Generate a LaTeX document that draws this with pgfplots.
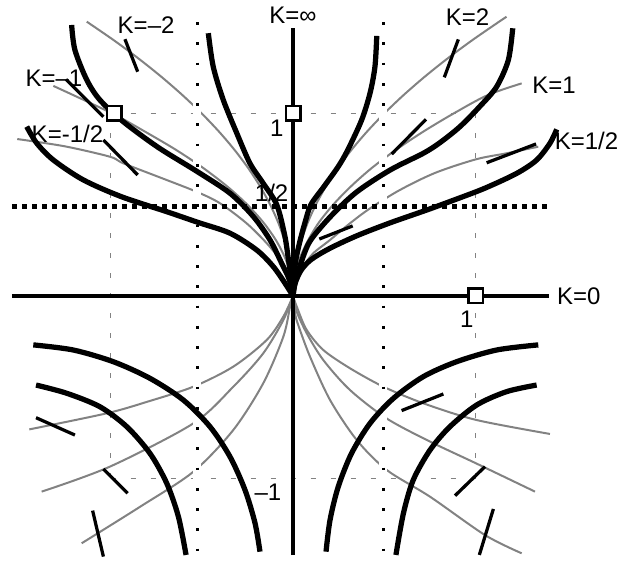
\documentclass[border=0pt]{standalone}
\usepackage{pgfplots}
\pgfplotsset{compat=1.18}
\usepackage{fontspec}
\setmainfont{Liberation Sans}
\definecolor{isogray}{RGB}{130,130,130}
\newcommand{\lab}{\fontsize{9.6}{11}\selectfont}

\begin{document}
\begin{tikzpicture}
\begin{axis}[
  hide axis, scale only axis, clip=false,
  x=73pt, y=73pt,
  xmin=-1.6055, xmax=1.8137, ymin=-1.4521, ymax=1.6219,
]
\coordinate (bl) at (rel axis cs:0,0);
\coordinate (tr) at (rel axis cs:1,1);

% thin dashed square through (+-1,+-1)
\pgfplotsset{grid/.style={color=isogray, line width=0.5pt, dash pattern=on 2pt off 6pt}}
\addplot[grid] coordinates {(-1,1) (1,1)};
\addplot[grid] coordinates {(-1,-1) (1,-1)};
\addplot[grid] coordinates {(-1,1) (-1,-1)};
\addplot[grid] coordinates {(1,1) (1,-1)};

% isoclines (grey)
\pgfplotsset{iso/.style={color=isogray, line width=0.8pt, smooth}}
% K = 2, 1, 1/2 (upper right)
\addplot[iso] coordinates {(0,0) (0.004,0.1) (0.02,0.2) (0.045,0.3) (0.08,0.4) (0.125,0.5) (0.18,0.6) (0.245,0.7) (0.32,0.8) (0.405,0.9) (0.5,1.0) (0.605,1.1) (0.72,1.2) (0.845,1.3) (0.98,1.4) (1.125,1.5) (1.17,1.53)};
\addplot[iso] coordinates {(0,0) (0.009,0.1) (0.035,0.2) (0.08,0.3) (0.14,0.4) (0.22,0.5) (0.317,0.6) (0.43,0.7) (0.563,0.8) (0.713,0.9) (0.88,1.0) (1.065,1.1) (1.253,1.165)};
\addplot[iso] coordinates {(0,0) (0.02,0.08) (0.056,0.161) (0.111,0.234) (0.203,0.307) (0.312,0.398) (0.422,0.48) (0.586,0.581) (0.78,0.675) (1.003,0.749) (1.171,0.782) (1.344,0.818)};
% K = -2, -1, -1/2 (upper left)
\addplot[iso] coordinates {(0,0) (-0.004,0.1) (-0.02,0.2) (-0.045,0.3) (-0.08,0.4) (-0.125,0.5) (-0.18,0.6) (-0.245,0.7) (-0.32,0.8) (-0.405,0.9) (-0.5,1.0) (-0.605,1.1) (-0.72,1.2) (-0.845,1.3) (-0.98,1.4) (-1.13,1.503)};
\addplot[iso] coordinates {(0,0) (-0.01,0.1) (-0.04,0.2) (-0.09,0.3) (-0.16,0.4) (-0.25,0.5) (-0.36,0.6) (-0.49,0.7) (-0.64,0.8) (-0.81,0.9) (-0.99,1.0) (-1.313,1.151)};
\addplot[iso] coordinates {(0,0) (-0.035,0.106) (-0.071,0.197) (-0.144,0.289) (-0.254,0.398) (-0.4,0.508) (-0.528,0.571) (-0.73,0.65) (-0.93,0.727) (-1.003,0.763) (-1.25,0.82) (-1.511,0.86)};
% lower right
\addplot[iso] coordinates {(0,0) (0.025,-0.07) (0.075,-0.186) (0.166,-0.296) (0.312,-0.396) (0.495,-0.497) (0.714,-0.588) (1.003,-0.679) (1.408,-0.756)};
\addplot[iso] coordinates {(0,0) (0.02,-0.085) (0.075,-0.204) (0.166,-0.351) (0.312,-0.515) (0.513,-0.671) (0.751,-0.798) (1.003,-0.917) (1.326,-1.072)};
\addplot[iso] coordinates {(0,0) (0.012,-0.1) (0.029,-0.16) (0.093,-0.332) (0.203,-0.57) (0.349,-0.789) (0.513,-0.953) (0.751,-1.1) (1.052,-1.31) (1.253,-1.41)};
% lower left
\addplot[iso] coordinates {(0,0) (-0.053,-0.113) (-0.144,-0.241) (-0.327,-0.387) (-0.546,-0.497) (-0.8,-0.58) (-1.021,-0.643) (-1.445,-0.731)};
\addplot[iso] coordinates {(0,0) (-0.053,-0.132) (-0.163,-0.314) (-0.327,-0.497) (-0.546,-0.698) (-1.003,-0.935) (-1.377,-1.072)};
\addplot[iso] coordinates {(0,0) (-0.016,-0.058) (-0.053,-0.223) (-0.163,-0.478) (-0.327,-0.734) (-0.546,-0.963) (-0.838,-1.155) (-1.158,-1.355)};

% dotted verticals x = +-1/2, with a white halo
\addplot[white, line width=3.2pt] coordinates {(-0.525,-1.42) (-0.525,1.5)};
\addplot[white, line width=3.2pt] coordinates {(0.495,-1.42) (0.495,1.5)};
\pgfplotsset{dotv/.style={black, line width=1.1pt, dash pattern=on 1.1pt off 7pt}}
\addplot[dotv] coordinates {(-0.525,1.5) (-0.525,-1.42)};
\addplot[dotv] coordinates {(0.495,1.5) (0.495,-1.42)};

% thick dotted line y = 1/2
\addplot[black, line width=2pt, dash pattern=on 2.2pt off 1.8pt] coordinates {(-1.54,0.493) (1.395,0.493)};

% solution curves (black)
\pgfplotsset{sol/.style={black, line width=2.1pt, smooth}}
\addplot[sol] coordinates {(0,0) (0.004,0.1) (0.016,0.2) (0.038,0.3) (0.065,0.4) (0.098,0.5) (0.17,0.6) (0.248,0.709) (0.30,0.80) (0.376,0.964) (0.422,1.111) (0.449,1.256) (0.459,1.425)};
\addplot[sol] coordinates {(0,0) (0.01,0.07) (0.04,0.17) (0.093,0.30) (0.21,0.44) (0.349,0.57) (0.532,0.69) (0.714,0.782) (0.805,0.84) (0.915,0.928) (1.025,1.04) (1.116,1.147) (1.18,1.293) (1.204,1.467)};
\addplot[sol] coordinates {(0,0) (0.012,0.07) (0.045,0.142) (0.10,0.2) (0.2,0.26) (0.35,0.33) (0.53,0.40) (0.73,0.47) (0.88,0.525) (1.05,0.59) (1.226,0.672) (1.335,0.745) (1.408,0.837) (1.445,0.913)};
\addplot[sol] coordinates {(0,0) (-0.01,0.1) (-0.025,0.2) (-0.045,0.33) (-0.089,0.5) (-0.163,0.617) (-0.236,0.727) (-0.308,0.892) (-0.382,1.074) (-0.437,1.256) (-0.464,1.44)};
\addplot[sol] coordinates {(0,0) (-0.02,0.09) (-0.062,0.179) (-0.126,0.307) (-0.217,0.435) (-0.345,0.563) (-0.53,0.685) (-0.74,0.815) (-0.93,0.955) (-1.058,1.074) (-1.13,1.184) (-1.195,1.348) (-1.213,1.485)};
\addplot[sol] coordinates {(0,0) (-0.044,0.07) (-0.108,0.161) (-0.199,0.252) (-0.345,0.344) (-0.52,0.403) (-0.692,0.462) (-0.94,0.544) (-1.149,0.636) (-1.313,0.745) (-1.404,0.837) (-1.459,0.928)};
\addplot[sol] coordinates {(-1.423,-0.268) (-1.204,-0.296) (-0.985,-0.36) (-0.784,-0.451) (-0.601,-0.57) (-0.455,-0.716) (-0.345,-0.881) (-0.263,-1.063) (-0.208,-1.245) (-0.181,-1.401)};
\addplot[sol] coordinates {(-1.408,-0.488) (-1.24,-0.533) (-1.058,-0.607) (-0.911,-0.716) (-0.784,-0.862) (-0.692,-1.026) (-0.628,-1.209) (-0.586,-1.419)};
\addplot[sol] coordinates {(1.344,-0.268) (1.116,-0.296) (0.897,-0.36) (0.714,-0.442) (0.55,-0.561) (0.422,-0.698) (0.321,-0.862) (0.248,-1.045) (0.203,-1.227) (0.181,-1.401)};
\addplot[sol] coordinates {(1.335,-0.488) (1.171,-0.524) (1.007,-0.597) (0.86,-0.716) (0.751,-0.844) (0.659,-1.008) (0.605,-1.191) (0.564,-1.419)};

% axes: K = 0 and K = infinity
\addplot[black, line width=1.8pt] coordinates {(-1.54,0) (1.40,0)};
\addplot[black, line width=1.8pt] coordinates {(0,-1.42) (0,1.47)};
% heavy junction where the curves meet
\addplot[black, line width=2.6pt] coordinates {(0,0) (0,0.09)};

% slope marks
\pgfplotsset{slope/.style={black, line width=1.3pt}}
\addplot[slope] coordinates {(-0.921,1.407) (-0.851,1.229)};
\addplot[slope] coordinates {(-1.244,1.187) (-1.039,0.982)};
\addplot[slope] coordinates {(-1.039,0.855) (-0.851,0.663)};
\addplot[slope] coordinates {(0.829,1.198) (0.906,1.406)};
\addplot[slope] coordinates {(0.541,0.778) (0.729,0.968)};
\addplot[slope] coordinates {(1.061,0.73) (1.332,0.833)};
\addplot[slope] coordinates {(0.144,0.312) (0.327,0.384)};
\addplot[slope] coordinates {(-1.408,-0.667) (-1.195,-0.762)};
\addplot[slope] coordinates {(-1.039,-0.948) (-0.906,-1.081)};
\addplot[slope] coordinates {(-1.098,-1.176) (-1.039,-1.428)};
\addplot[slope] coordinates {(0.595,-0.628) (0.824,-0.537)};
\addplot[slope] coordinates {(0.888,-1.094) (1.052,-0.935)};
\addplot[slope] coordinates {(1.021,-1.419) (1.098,-1.167)};

% marked points
\addplot[only marks, mark=square*, mark size=2.9pt,
  mark options={fill=white, draw=black, line width=1pt}]
  coordinates {(-0.98,1) (0,1) (1,0)};

% labels
\node[font=\lab, inner sep=0pt] at (axis cs:0,1.54) {K=∞};
\node[font=\lab, inner sep=0pt] at (axis cs:0.956,1.53) {K=2};
\node[font=\lab, inner sep=0pt] at (axis cs:1.43,1.156) {K=1};
\node[font=\lab, inner sep=0pt] at (axis cs:1.608,0.847) {K=1/2};
\node[font=\lab, inner sep=0pt, anchor=west] at (axis cs:1.444,0) {K=0};
\node[font=\lab, inner sep=0pt] at (axis cs:-0.805,1.485) {K=–2};
\node[font=\lab, inner sep=0pt] at (axis cs:-1.31,1.195) {K=–1};
\node[font=\lab, inner sep=0pt] at (axis cs:-1.236,0.888) {K=-1/2};
\node[font=\lab, inner sep=0pt] at (axis cs:-0.089,0.921) {1};
\node[font=\lab, inner sep=0pt] at (axis cs:-0.117,0.564) {1/2};
\node[font=\lab, inner sep=0pt] at (axis cs:0.952,-0.126) {1};
\node[font=\lab, inner sep=0pt] at (axis cs:-0.137,-1.074) {–1};
\end{axis}
\pgfresetboundingbox
\useasboundingbox (bl) rectangle (tr);
\end{tikzpicture}
\end{document}
